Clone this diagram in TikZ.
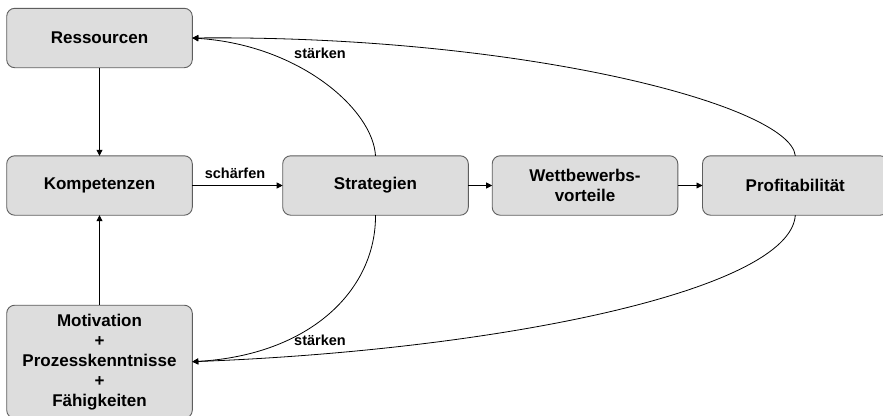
\documentclass[tikz,border=0pt]{standalone}
\usepackage{fontspec}
\setmainfont{Liberation Sans}
\usetikzlibrary{arrows.meta}
\definecolor{boxfill}{HTML}{DDDDDD}
\definecolor{boxline}{HTML}{5E5E5E}
\tikzset{
  box/.style={draw=boxline, fill=boxfill, line width=0.9pt, rounded corners=8pt,
    minimum width=185.6pt, minimum height=59.4pt, inner sep=0pt, outer sep=0pt,
    align=center, font=\fontsize{17}{20}\bfseries\selectfont},
  lbl/.style={inner sep=0pt, font=\fontsize{14.5}{17}\bfseries\selectfont},
  arr/.style={draw=black, line width=0.8pt, -{Triangle[length=6pt,width=6pt]}},
}
\begin{document}
\begin{tikzpicture}[x=1pt,y=-1pt]
\useasboundingbox (0,0) rectangle (883,415);
\fill[white] (0,0) rectangle (883,415);
\node[box] (res) at (99.5,38) {Ressourcen};
\node[box] (komp) at (99.5,185.5) {Kompetenzen};
\node[box] (strat) at (375.5,185.5) {Strategien};
\node[box] (wett) at (585,185.5) {Wettbewerbs-\\vorteile};
\node[box] (prof) at (795.3,185.5) {Profitabilität};
\node[box, minimum height=113pt] (mot) at (99.5,361.7) {Motivation\\+\\Prozesskenntnisse\\+\\Fähigkeiten};
\draw[arr] (res) -- (komp);
\draw[arr] (mot) -- (komp);
\draw[arr] (komp) -- (strat);
\draw[arr] (strat) -- (wett);
\draw[arr] (wett) -- (prof);
\draw[arr] (strat.north) .. controls +(-2.5,-46) and +(107.7,7) .. (res.east);
\draw[arr] (prof.north) .. controls +(-5,-51) and +(327.7,-3) .. (res.east);
\draw[arr] (strat.south) .. controls +(0.5,75) and +(117.7,-6.7) .. (mot.east);
\draw[arr] (prof.south) .. controls +(-5,75) and +(307.7,-11.7) .. (mot.east);
\node[lbl] (l1) at (235,173.3) {schärfen};
\node[lbl] (l2) at (320,53) {stärken};
\node[lbl] (l3) at (320,340.5) {stärken};
\end{tikzpicture}
\end{document}
